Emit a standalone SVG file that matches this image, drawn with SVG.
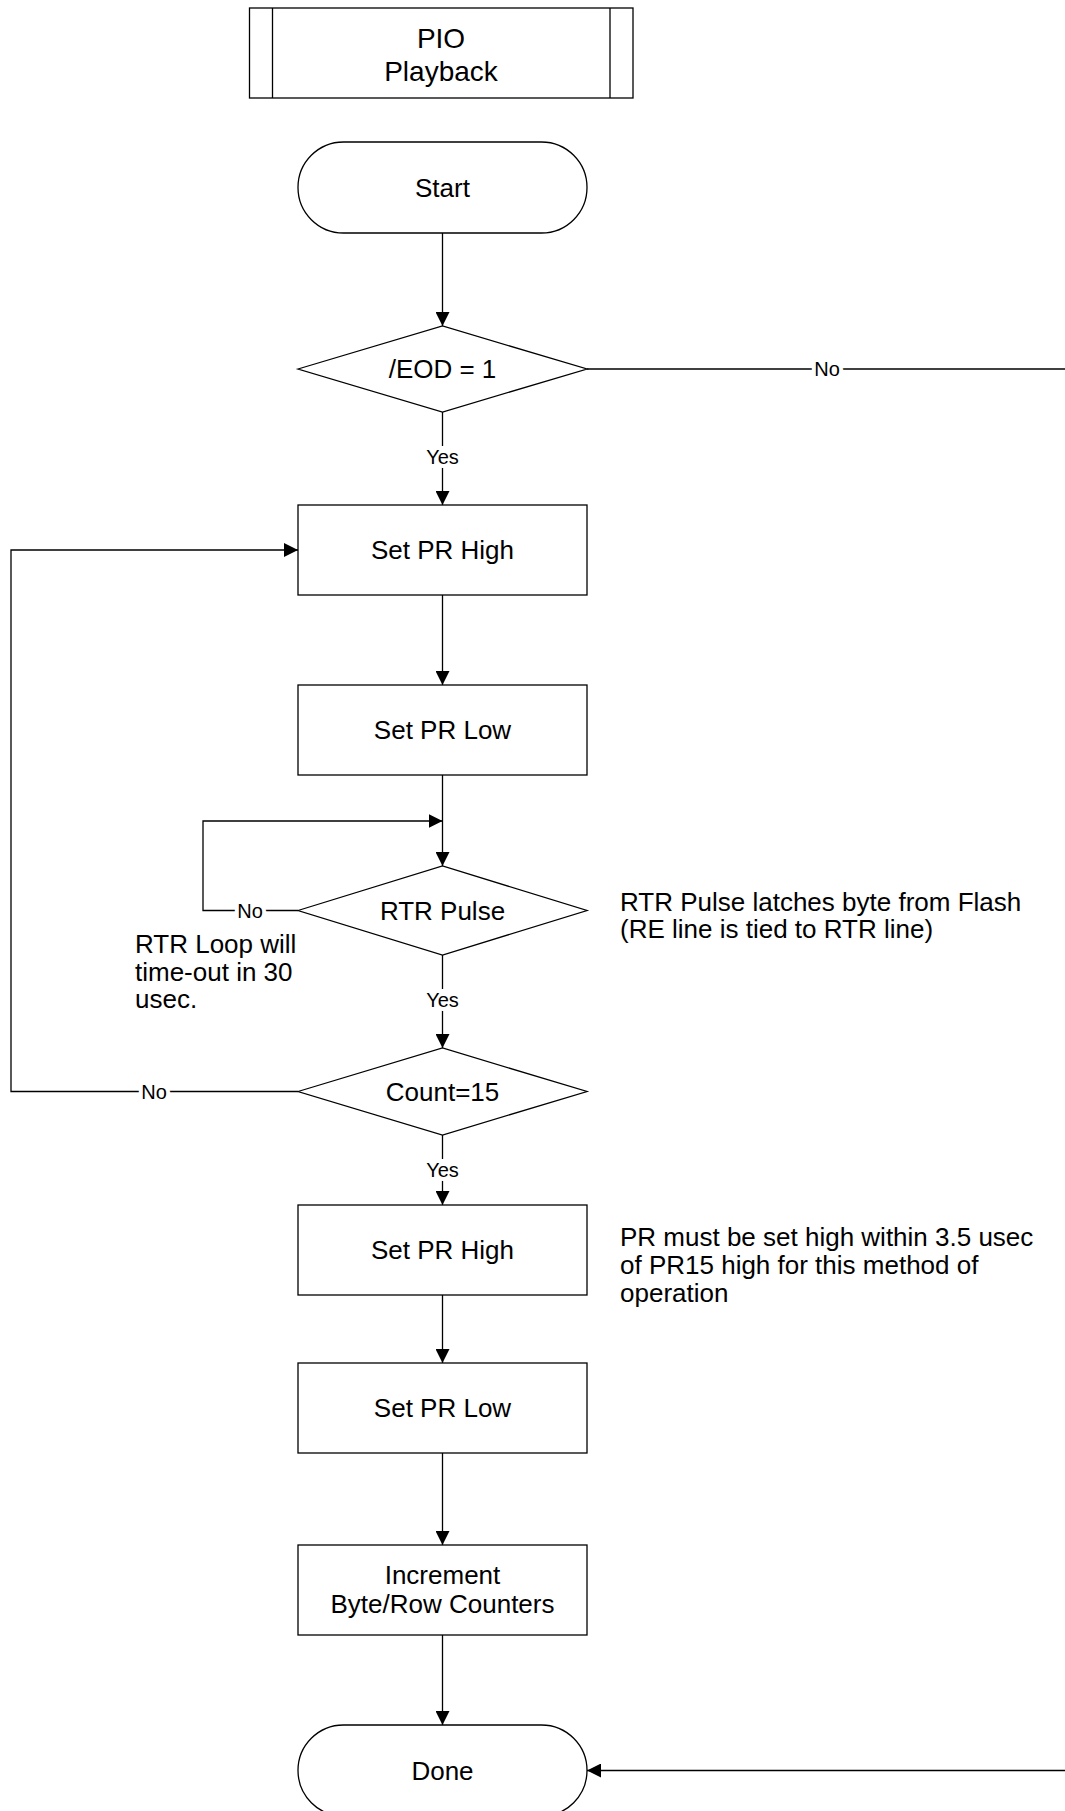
<svg xmlns="http://www.w3.org/2000/svg" width="1065" height="1811" viewBox="0 0 1065 1811">
  <defs>
    <marker id="arrow" viewBox="0 0 14 14" refX="14" refY="7" markerWidth="14" markerHeight="14" markerUnits="userSpaceOnUse" orient="auto">
      <path d="M0,0 L14,7 L0,14 Z" fill="#000"/>
    </marker>
    <style>
      .shape { fill: #fff; stroke: #000; stroke-width: 1.3; }
      .line { fill: none; stroke: #000; stroke-width: 1.3; }
      .arr { marker-end: url(#arrow); }
      .txt { font-family: "Liberation Sans", Arial, sans-serif; font-size: 26px; fill: #000; }
      .ttl { font-family: "Liberation Sans", Arial, sans-serif; font-size: 28px; fill: #000; text-anchor: middle; }
      .mid { text-anchor: middle; }
      .lbl { font-family: "Liberation Sans", Arial, sans-serif; font-size: 20px; fill: #000; text-anchor: middle;
             stroke: #fff; stroke-width: 8; paint-order: stroke; }
    </style>
  </defs>
  <rect width="1065" height="1811" fill="#fff"/>

  <!-- connectors -->
  <g id="connectors">
    <line class="line arr" x1="442.5" y1="233" x2="442.5" y2="326"/>
    <line class="line arr" x1="442.5" y1="412" x2="442.5" y2="505"/>
    <line class="line arr" x1="442.5" y1="595" x2="442.5" y2="685"/>
    <line class="line arr" x1="442.5" y1="775" x2="442.5" y2="866"/>
    <polyline class="line arr" points="298,910.5 203,910.5 203,821 442.5,821"/>
    <line class="line arr" x1="442.5" y1="955" x2="442.5" y2="1048"/>
    <polyline class="line arr" points="298,1091.5 11,1091.5 11,550 298,550"/>
    <line class="line arr" x1="442.5" y1="1135" x2="442.5" y2="1205"/>
    <line class="line arr" x1="442.5" y1="1295" x2="442.5" y2="1363"/>
    <line class="line arr" x1="442.5" y1="1453" x2="442.5" y2="1545"/>
    <line class="line arr" x1="442.5" y1="1635" x2="442.5" y2="1725"/>
    <line class="line" x1="587" y1="369" x2="1065" y2="369"/>
    <line class="line arr" x1="1065" y1="1770.5" x2="587" y2="1770.5"/>

    <text class="lbl" x="442.5" y="464">Yes</text>
    <text class="lbl" x="827" y="376">No</text>
    <text class="lbl" x="250" y="917.5">No</text>
    <text class="lbl" x="442.5" y="1007">Yes</text>
    <text class="lbl" x="154" y="1098.5">No</text>
    <text class="lbl" x="442.5" y="1177">Yes</text>
  </g>

  <!-- title block -->
  <g id="title">
    <rect class="shape" x="249.5" y="8" width="383.5" height="90"/>
    <line class="line" x1="272.5" y1="8" x2="272.5" y2="98"/>
    <line class="line" x1="610" y1="8" x2="610" y2="98"/>
    <text class="ttl" x="441" y="48">PIO</text>
    <text class="ttl" x="441" y="81">Playback</text>
  </g>

  <g id="start">
    <rect class="shape" x="298" y="142" width="289" height="91" rx="45.5" ry="45.5"/>
    <text class="txt mid" x="442.5" y="197">Start</text>
  </g>

  <g id="eod">
    <polygon class="shape" points="298,369 442.5,326 587,369 442.5,412"/>
    <text class="txt mid" x="442.5" y="378">/EOD = 1</text>
  </g>

  <g id="set-high-1">
    <rect class="shape" x="298" y="505" width="289" height="90"/>
    <text class="txt mid" x="442.5" y="559">Set PR High</text>
  </g>

  <g id="set-low-1">
    <rect class="shape" x="298" y="685" width="289" height="90"/>
    <text class="txt mid" x="442.5" y="739">Set PR Low</text>
  </g>

  <g id="rtr-pulse">
    <polygon class="shape" points="298,910.5 442.5,866 587,910.5 442.5,955"/>
    <text class="txt mid" x="442.5" y="919.5">RTR Pulse</text>
  </g>

  <g id="rtr-note">
    <text class="txt" x="620" y="911">RTR Pulse latches byte from Flash</text>
    <text class="txt" x="620" y="938">(RE line is tied to RTR line)</text>
  </g>

  <g id="rtr-loop-note">
    <text class="txt" x="135" y="953">RTR Loop will</text>
    <text class="txt" x="135" y="980.5">time-out in 30</text>
    <text class="txt" x="135" y="1008">usec.</text>
  </g>

  <g id="count">
    <polygon class="shape" points="298,1091.5 442.5,1048 587,1091.5 442.5,1135"/>
    <text class="txt mid" x="442.5" y="1100.5">Count=15</text>
  </g>

  <g id="set-high-2">
    <rect class="shape" x="298" y="1205" width="289" height="90"/>
    <text class="txt mid" x="442.5" y="1259">Set PR High</text>
  </g>

  <g id="pr-note">
    <text class="txt" x="620" y="1246">PR must be set high within 3.5 usec</text>
    <text class="txt" x="620" y="1274">of PR15 high for this method of</text>
    <text class="txt" x="620" y="1302">operation</text>
  </g>

  <g id="set-low-2">
    <rect class="shape" x="298" y="1363" width="289" height="90"/>
    <text class="txt mid" x="442.5" y="1417">Set PR Low</text>
  </g>

  <g id="increment">
    <rect class="shape" x="298" y="1545" width="289" height="90"/>
    <text class="txt mid" x="442.5" y="1584">Increment</text>
    <text class="txt mid" x="442.5" y="1613">Byte/Row Counters</text>
  </g>

  <g id="done">
    <rect class="shape" x="298" y="1725" width="289" height="91" rx="45.5" ry="45.5"/>
    <text class="txt mid" x="442.5" y="1780">Done</text>
  </g>
</svg>
